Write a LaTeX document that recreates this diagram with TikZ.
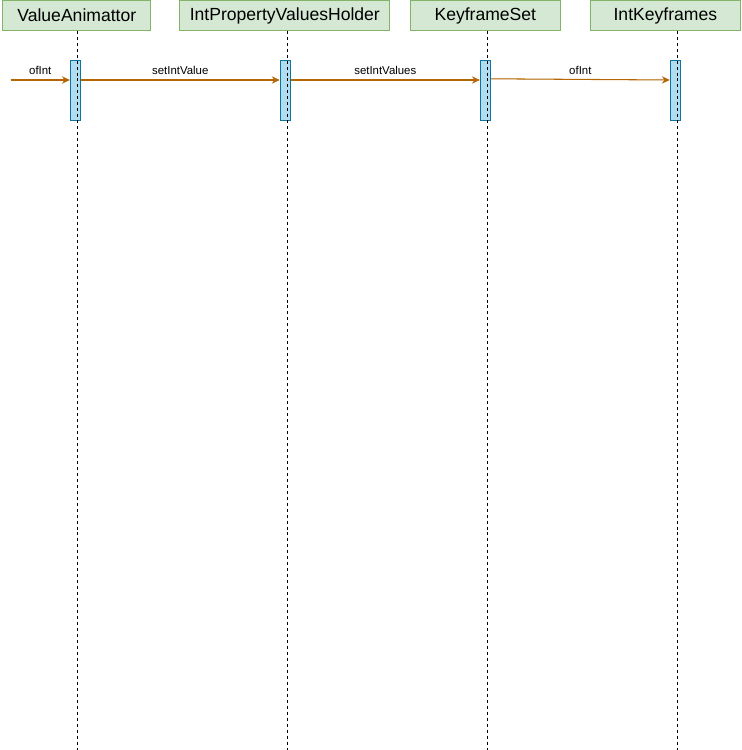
\documentclass[tikz,border=0pt]{standalone}
\usepackage{fontspec}
\setmainfont{Liberation Sans}
\usetikzlibrary{arrows.meta,positioning}

\definecolor{actfill}{HTML}{D5E8D4}
\definecolor{actline}{HTML}{82B366}
\definecolor{barfill}{HTML}{B1DDF0}
\definecolor{barline}{HTML}{10739E}
\definecolor{msgcol}{HTML}{B46504}

\begin{document}
\begin{tikzpicture}[
    x=0.02cm, y=-0.02cm,
    actor/.style={rectangle, draw=actline, fill=actfill, line width=0.6pt, minimum height=0.6cm, inner sep=0pt, font=\fontsize{10}{11}\selectfont},
    bar/.style={rectangle, draw=barline, fill=barfill, line width=0.6pt, minimum width=0.2cm, minimum height=1.19cm, inner sep=0pt},
    life/.style={line width=0.6pt, dash pattern=on 1.7pt off 1.7pt},
    msg/.style={-{Stealth[length=4.5pt,width=4.2pt]}, draw=msgcol, fill=msgcol, line width=0.6pt},
    lbl/.style={midway, above, inner sep=2.6pt, font=\fontsize{6.5}{7}\selectfont}
]
    \useasboundingbox (0,0) rectangle (741,750);

    % participants
    \node[actor, minimum width=2.96cm] (va) at (76.8,15.5) {ValueAnimattor};
    \node[actor, minimum width=4.2cm, right=0.56cm of va] (ipvh) {IntPropertyValuesHolder};
    \node[actor, minimum width=3.0cm, right=0.39cm of ipvh] (ks) {KeyframeSet};
    \node[actor, minimum width=3.0cm, right=0.58cm of ks] (ik) {IntKeyframes};

    % lifeline ends
    \coordinate (va-top) at (77.7,30.7);
    \coordinate (ipvh-top) at (287.5,30.7);
    \coordinate (ks-top) at (487.7,30.7);
    \coordinate (ik-top) at (677.3,30.7);
    \coordinate (bottom) at (0,750);

    % activations
    \node[bar] (va-act) at (75.4,90.4) {};
    \node[bar] (ipvh-act) at (285.2,90.4) {};
    \node[bar] (ks-act) at (485.4,90.4) {};
    \node[bar] (ik-act) at (675.3,90.4) {};

    \draw[life] (va-top) -- (va-top |- bottom);
    \draw[life] (ipvh-top) -- (ipvh-top |- bottom);
    \draw[life] (ks-top) -- (ks-top |- bottom);
    \draw[life] (ik-top) -- (ik-top |- bottom);

    % messages
    \coordinate (start) at (10.7,80);
    \coordinate (m) at (0,80);
    \coordinate (m4) at (0,78.8);
    \draw[msg] (start) -- (va-act.west |- m) node[lbl] {ofInt};
    \draw[msg] (va-act.east |- m) -- (ipvh-act.west |- m) node[lbl] {setIntValue};
    \draw[msg] (ipvh-act.east |- m) -- (ks-act.west |- m) node[lbl] {setIntValues};
    \draw[msg] (ks-act.east |- m4) -- (ik-act.west |- m) node[lbl] {ofInt};
\end{tikzpicture}
\end{document}
